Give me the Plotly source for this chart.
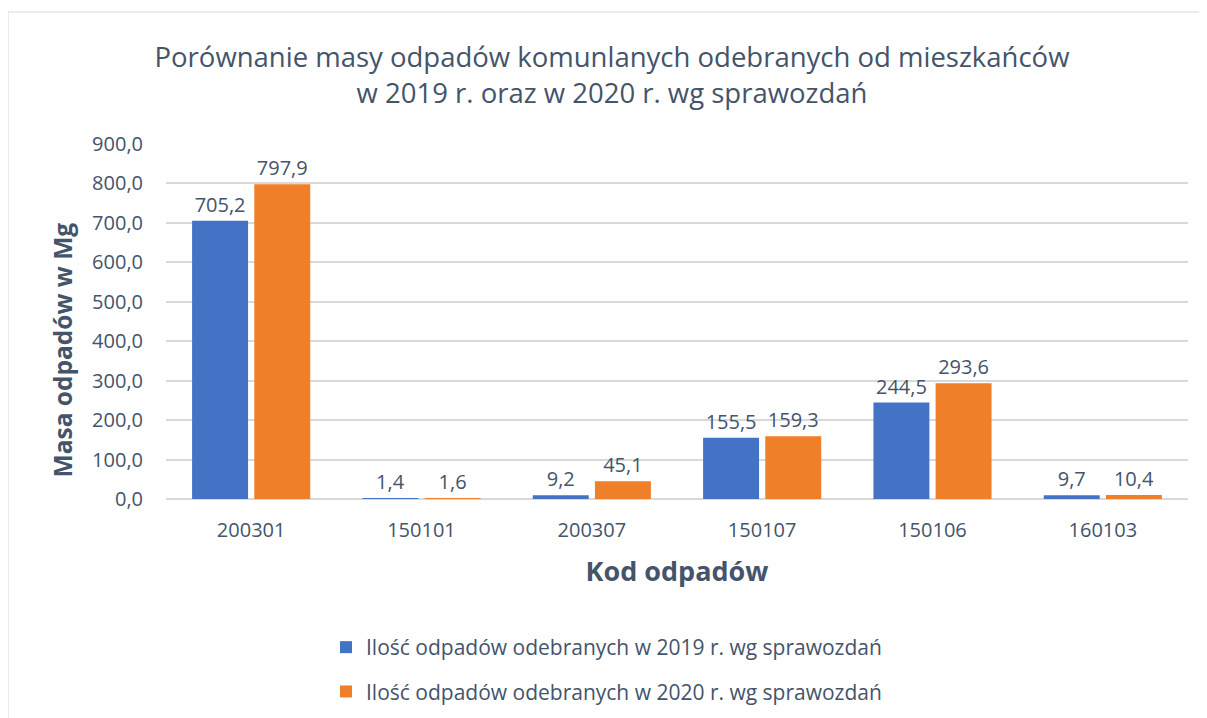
import plotly.graph_objects as go

categories = ["200301", "150101", "200307", "150107", "150106", "160103"]
values_2019 = [705.2, 1.4, 9.2, 155.5, 244.5, 9.7]
values_2020 = [797.9, 1.6, 45.1, 159.3, 293.6, 10.4]
series_names = ["Ilość odpadów odebranych w 2019 r. wg sprawozdań",
                "Ilość odpadów odebranych w 2020 r. wg sprawozdań"]
y_ticks = [0, 100, 200, 300, 400, 500, 600, 700, 800, 900]

TXT = "#44546A"
FONT = "Open Sans"

# page has an 8px body margin; work in page pixels and shift
OFF = 8
W, H = 1207 - OFF, 718 - OFF
L, R, T, B = 166 - OFF, 19, 144 - OFF, 718 - 499
pw, ph = W - L - R, H - T - B

def px(x):
    return (x - OFF - L) / pw

def py(y):
    return (H - B - (y - OFF)) / ph

fig = go.Figure()
fig.add_trace(go.Bar(
    x=categories, y=values_2019, name=series_names[0],
    marker=dict(color="#4472C4", line=dict(width=0)),
    texttemplate="%{y:.1f}", textposition="outside",
    textfont=dict(size=20, color=TXT, family=FONT), cliponaxis=False,
    legendgroup="a"))
fig.add_trace(go.Bar(
    x=categories, y=values_2020, name=series_names[1],
    marker=dict(color="#F07F2A", line=dict(width=0)),
    texttemplate="%{y:.1f}", textposition="outside",
    textfont=dict(size=20, color=TXT, family=FONT), cliponaxis=False,
    legendgroup="b"))

fig.add_shape(type="rect", xref="paper", yref="paper",
              x0=px(8), x1=px(1215), y0=py(730), y1=py(12),
              line=dict(color="#D9D9D9", width=1), layer="below")

fig.update_layout(
    width=W, height=H,
    margin=dict(l=L, r=R, t=T, b=B, autoexpand=False),
    paper_bgcolor="white", plot_bgcolor="white",
    separators=", ",
    font=dict(family=FONT, color=TXT, size=20),
    title=dict(
        text="Porównanie masy odpadów komunlanych odebranych od mieszkańców<br>w 2019 r. oraz w 2020 r. wg sprawozdań",
        x=(612 - OFF) / W, xanchor="center", xref="container",
        y=1 - (67 - OFF) / H, yanchor="middle", yref="container",
        font=dict(size=27.5, color=TXT, family=FONT)),
    barmode="group", bargap=0.27, bargroupgap=0.1,
    xaxis=dict(showgrid=False, showline=False, ticks="",
               tickfont=dict(size=20, color=TXT),
               ticklabelstandoff=17,
               title=dict(text="<b>Kod odpadów</b>", font=dict(size=27, color=TXT), standoff=20)),
    yaxis=dict(range=[0, 900], tickvals=y_ticks, tickformat=".1f",
               showgrid=True, gridcolor="#D9D9D9", gridwidth=2,
               zeroline=True, zerolinecolor="#D9D9D9", zerolinewidth=2,
               showline=False, ticks="",
               tickfont=dict(size=20, color=TXT),
               ticklabelstandoff=22,
               title=dict(text="<b>Masa odpadów w Mg</b>" + "&nbsp;" * 9,
                          font=dict(size=24.5, color=TXT), standoff=12)),
    showlegend=True,
    legend=dict(orientation="v", x=px(326), xanchor="left", y=py(627), yanchor="top",
                font=dict(size=21, color=TXT), traceorder="grouped",
                tracegroupgap=14, itemwidth=30, bgcolor="rgba(0,0,0,0)"),
)

fig.write_html("out.html")
